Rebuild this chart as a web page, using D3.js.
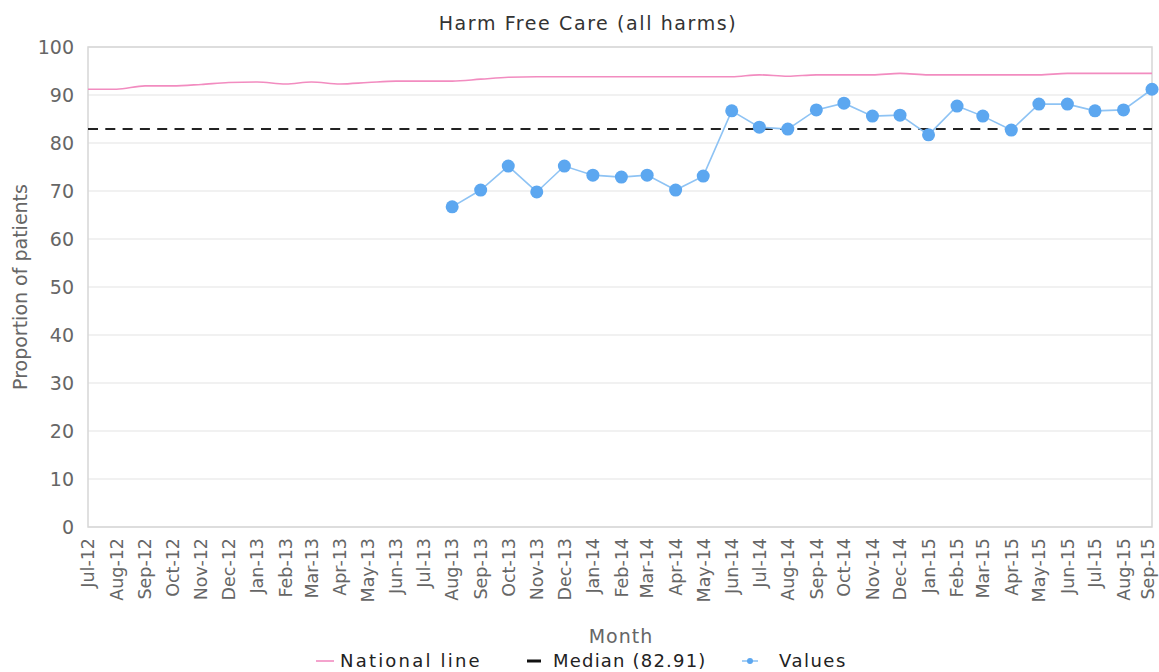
<!DOCTYPE html>
<html>
<head>
<meta charset="utf-8">
<script src="https://cdn.jsdelivr.net/npm/d3@7"></script>
<style>
  body { margin: 0; background: #fff; }
  svg { display: block; font-family: "DejaVu Sans", Verdana, sans-serif; }
</style>
</head>
<body>
<svg id="chart" width="1159" height="672"></svg>
<script>
// ---- Data ----
const months = ["Jul-12","Aug-12","Sep-12","Oct-12","Nov-12","Dec-12","Jan-13","Feb-13","Mar-13","Apr-13","May-13","Jun-13",
  "Jul-13","Aug-13","Sep-13","Oct-13","Nov-13","Dec-13","Jan-14","Feb-14","Mar-14","Apr-14","May-14","Jun-14",
  "Jul-14","Aug-14","Sep-14","Oct-14","Nov-14","Dec-14","Jan-15","Feb-15","Mar-15","Apr-15","May-15","Jun-15",
  "Jul-15","Aug-15","Sep-15"];
const nationalLine = [91.2,91.2,91.9,91.9,92.2,92.6,92.7,92.3,92.7,92.3,92.6,92.9,
  92.9,92.9,93.3,93.7,93.8,93.8,93.8,93.8,93.8,93.8,93.8,93.8,
  94.2,93.9,94.2,94.2,94.2,94.5,94.2,94.2,94.2,94.2,94.2,94.5,
  94.5,94.5,94.5];
const valueMonths = ["Aug-13","Sep-13","Oct-13","Nov-13","Dec-13","Jan-14","Feb-14","Mar-14","Apr-14","May-14","Jun-14",
  "Jul-14","Aug-14","Sep-14","Oct-14","Nov-14","Dec-14","Jan-15","Feb-15","Mar-15","Apr-15","May-15","Jun-15",
  "Jul-15","Aug-15","Sep-15"];
const values = [66.7,70.2,75.2,69.8,75.2,73.3,72.9,73.3,70.2,73.1,86.7,
  83.3,82.9,86.9,88.3,85.6,85.8,81.7,87.7,85.6,82.7,88.1,88.1,
  86.7,86.9,91.2];
const median = 82.91;
const yTicks = [0,10,20,30,40,50,60,70,80,90,100];
const titleText = "Harm Free Care (all harms)";
const xTitle = "Month";
const yTitle = "Proportion of patients";
const legendItems = ["National line", "Median (82.91)", "Values"];

// ---- Layout ----
const svg = d3.select("#chart");
const L = 88, R = 1152, T = 47, B = 527;
const parse = d3.timeParse("%b-%y");
const fmt = d3.timeFormat("%b-%y");
const dates = months.map(parse);

const x = d3.scaleTime().domain([dates[0], dates[dates.length - 1]]).range([L, R]);
const y = d3.scaleLinear().domain([0, 100]).range([B, T]);

const textColor = "#666";
const pink = "#f28cc0";
const blueLine = "#8ec3f4";
const blueDot = "#5ca7f0";

// grid
svg.append("g").selectAll("line").data(yTicks).join("line")
  .attr("x1", L).attr("x2", R)
  .attr("y1", d => y(d)).attr("y2", d => y(d))
  .attr("stroke", "#e4e4e4").attr("stroke-width", 1.2);

// plot border
svg.append("rect").attr("x", L).attr("y", T).attr("width", R - L).attr("height", B - T)
  .attr("fill", "none").attr("stroke", "#d6d6d6").attr("stroke-width", 1.5);

// y axis labels
const yAxis = d3.axisLeft(y).tickValues(yTicks).tickSize(0).tickPadding(14);
const gy = svg.append("g").attr("transform", `translate(${L},0)`).call(yAxis);
gy.select(".domain").remove();
gy.selectAll("text").attr("fill", textColor).style("font-size", "19px")
  .style("font-family", "DejaVu Sans, sans-serif");

// x axis labels
const xAxis = d3.axisBottom(x).tickValues(dates).tickFormat(fmt).tickSize(0);
const gx = svg.append("g").attr("transform", `translate(0,${B})`).call(xAxis);
gx.select(".domain").remove();
const nLab = dates.length;
gx.selectAll("text")
  .attr("fill", textColor).style("font-size", "17.5px")
  .style("font-family", "DejaVu Sans, sans-serif")
  .attr("transform", "rotate(-90)")
  .attr("text-anchor", "end")
  .attr("x", -11).attr("y", 0)
  .attr("dy", (d, i) => i === nLab - 1 ? "0.08em" : "0.33em");

// national line
const natData = dates.map((d, i) => ({ d, v: nationalLine[i] }));
svg.append("path").datum(natData)
  .attr("fill", "none").attr("stroke", pink).attr("stroke-width", 1.6)
  .attr("d", d3.line().x(p => x(p.d)).y(p => y(p.v)).curve(d3.curveMonotoneX));

// median
svg.append("line").attr("x1", L).attr("x2", R)
  .attr("y1", y(median)).attr("y2", y(median))
  .attr("stroke", "#222").attr("stroke-width", 2).attr("stroke-dasharray", "10,7.3");

// values
const valData = valueMonths.map((m, i) => ({ d: parse(m), v: values[i] }));
svg.append("path").datum(valData)
  .attr("fill", "none").attr("stroke", blueLine).attr("stroke-width", 1.6)
  .attr("d", d3.line().x(p => x(p.d)).y(p => y(p.v)));
svg.append("g").selectAll("circle").data(valData).join("circle")
  .attr("cx", p => x(p.d)).attr("cy", p => y(p.v)).attr("r", 6.5)
  .attr("fill", blueDot);

// title
svg.append("text").attr("x", 588).attr("y", 30).attr("text-anchor", "middle")
  .attr("fill", "#333").style("font-size", "19px").style("letter-spacing", "1.6px")
  .text(titleText);

// axis titles
svg.append("text").attr("x", 621).attr("y", 643).attr("text-anchor", "middle")
  .attr("fill", textColor).style("font-size", "19px").style("letter-spacing", "1px")
  .text(xTitle);
svg.append("text").attr("transform", `translate(27,${(T + B) / 2 + 0}) rotate(-90)`)
  .attr("text-anchor", "middle").attr("fill", textColor).style("font-size", "19px")
  .text(yTitle);

// legend
const legendY = 661;
const legendX = [316, 527, 742];
const textX = [340, 553, 779];
const spacing = ["2.2px", "1.2px", "1.5px"];
legendItems.forEach((name, i) => {
  const g = svg.append("g");
  if (i === 0) {
    g.append("line").attr("x1", legendX[i]).attr("x2", legendX[i] + 18)
      .attr("y1", legendY).attr("y2", legendY).attr("stroke", pink).attr("stroke-width", 1.6);
  } else if (i === 1) {
    g.append("line").attr("x1", legendX[i]).attr("x2", legendX[i] + 14)
      .attr("y1", legendY).attr("y2", legendY).attr("stroke", "#111").attr("stroke-width", 3);
  } else {
    g.append("line").attr("x1", legendX[i]).attr("x2", legendX[i] + 16)
      .attr("y1", legendY).attr("y2", legendY).attr("stroke", blueLine).attr("stroke-width", 1.6);
    g.append("circle").attr("cx", legendX[i] + 8).attr("cy", legendY).attr("r", 3).attr("fill", blueDot);
  }
  g.append("text").attr("x", textX[i]).attr("y", legendY).attr("dy", "0.33em")
    .attr("fill", "#222").style("font-size", "18px").style("letter-spacing", spacing[i])
    .text(name);
});
</script>
</body>
</html>
